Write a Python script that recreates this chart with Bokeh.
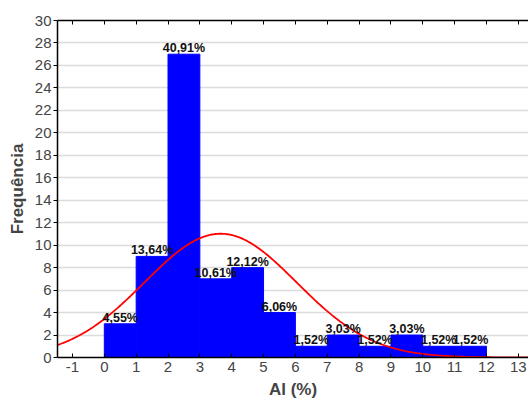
import numpy as np
from bokeh.plotting import figure
from bokeh.models import ColumnDataSource, FixedTicker, LinearAxis, Range1d
from bokeh.embed import file_html
from bokeh.resources import INLINE
from bokeh.core.properties import value

# ---- data ----
bin_left = [-1, 0, 1, 2, 3, 4, 5, 6, 7, 8, 9, 10, 11, 12]
bin_right = [0, 1, 2, 3, 4, 5, 6, 7, 8, 9, 10, 11, 12, 13]
counts = [0, 3, 9, 27, 7, 8, 4, 1, 2, 1, 2, 1, 1, 0]
fit_mean = 3.65
fit_sd = 2.39
x_ticks = [-1, 0, 1, 2, 3, 4, 5, 6, 7, 8, 9, 10, 11, 12, 13]
y_ticks = [0, 2, 4, 6, 8, 10, 12, 14, 16, 18, 20, 22, 24, 26, 28, 30]
x_title = "Al (%)"
y_title = "Frequência"

FONT = "Liberation Sans"
total = sum(counts)
bin_w = 1.0

x_start, x_end = -1.47, 13.32

p = figure(width=528, height=404, output_backend="svg", toolbar_location=None,
           x_range=Range1d(x_start, x_end), y_range=Range1d(0, 30),
           min_border_left=57, min_border_right=0, min_border_top=20,
           min_border_bottom=47)
p.outline_line_color = None
p.background_fill_color = "white"
p.border_fill_color = "white"

# bars
line_cols = ["#000080" if c == 0 else "#0000FF" for c in counts]
src = ColumnDataSource(dict(left=bin_left, right=bin_right, top=counts,
                            bottom=[0] * len(counts), lc=line_cols))
p.quad(left="left", right="right", top="top", bottom="bottom", source=src,
       fill_color="#0000FF", line_color="lc", line_width=1)

# fitted normal curve
xs = np.linspace(x_start, x_end, 400)
ys = total * bin_w * np.exp(-0.5 * ((xs - fit_mean) / fit_sd) ** 2) / (fit_sd * np.sqrt(2 * np.pi))
p.line(xs, ys, line_color="#FF0000", line_width=1.8)

# percentage labels
lab_x, lab_y, lab_t = [], [], []
for l, r, c in zip(bin_left, bin_right, counts):
    if c > 0:
        lab_x.append((l + r) / 2)
        lab_y.append(c)
        lab_t.append(f"{c / total * 100:.2f}%".replace(".", ","))
lsrc = ColumnDataSource(dict(x=lab_x, y=lab_y, t=lab_t))
p.text(x="x", y="y", text="t", source=lsrc, text_font=value(FONT),
       text_font_size="12.5px", text_font_style="bold", text_color="#111111",
       text_align="center", text_baseline="bottom", y_offset=1)

# grid
p.xgrid.visible = False
p.ygrid.ticker = FixedTicker(ticks=y_ticks)
p.ygrid.grid_line_color = "#DCDCDC"
p.ygrid.grid_line_width = 1.5

# axes
xa = p.xaxis[0]
xa.ticker = FixedTicker(ticks=x_ticks)
xa.major_label_overrides = {t: str(t) for t in x_ticks}
xa.axis_label = x_title
xa.axis_label_text_font = FONT
xa.axis_label_text_font_style = "bold"
xa.axis_label_text_font_size = "17px"
xa.axis_label_standoff = 5
xa.major_label_text_font = FONT
xa.major_label_text_font_size = "15px"
xa.major_label_standoff = 4
xa.major_tick_in = 4
xa.major_tick_out = 0
xa.minor_tick_line_color = None
xa.axis_line_width = 1.5
xa.axis_line_color = "black"
xa.major_tick_line_color = "black"

ya = p.yaxis[0]
ya.ticker = FixedTicker(ticks=y_ticks)
ya.axis_label = y_title
ya.axis_label_text_font = FONT
ya.axis_label_text_font_style = "bold"
ya.axis_label_text_font_size = "17px"
ya.axis_label_standoff = 5
ya.major_label_text_font = FONT
ya.major_label_text_font_size = "15px"
ya.major_label_standoff = 2
ya.major_tick_in = 0
ya.major_tick_out = 4
ya.minor_tick_line_color = None
ya.axis_line_width = 1.5
ya.axis_line_color = "black"
ya.major_tick_line_color = "black"

top = LinearAxis(ticker=FixedTicker(ticks=x_ticks))
top.major_label_text_font_size = "0px"
top.major_label_text_color = None
top.major_tick_in = 4
top.major_tick_out = 0
top.minor_tick_line_color = None
top.axis_line_width = 1.5
top.axis_line_color = "black"
p.add_layout(top, "above")

open("out.html", "w").write(file_html(p, INLINE))
